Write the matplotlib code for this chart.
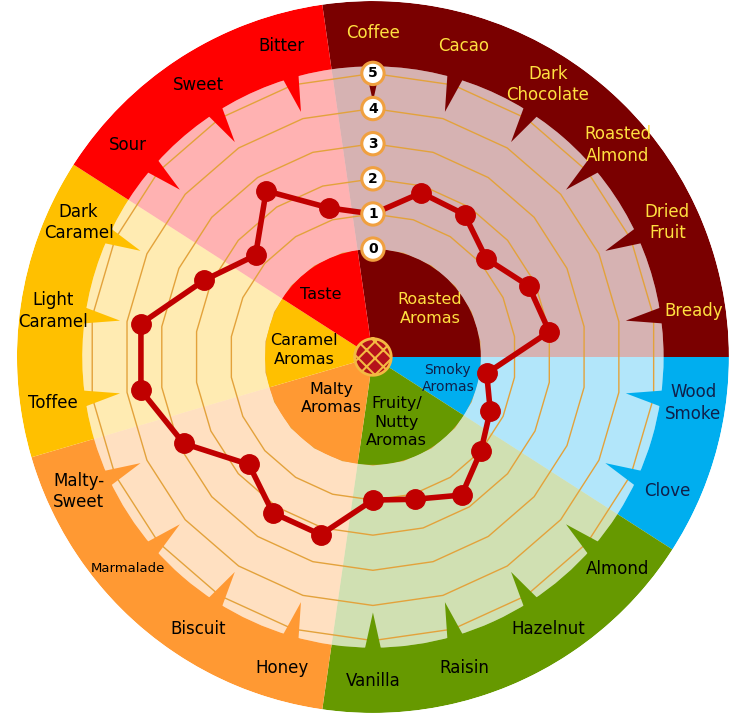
import numpy as np
import matplotlib.pyplot as plt

# flavour wheel data (clockwise from the top)
flavours = ["Coffee", "Cacao", "Dark\nChocolate", "Roasted\nAlmond", "Dried\nFruit", "Bready",
            "Wood\nSmoke", "Clove",
            "Almond", "Hazelnut", "Raisin", "Vanilla",
            "Honey", "Biscuit", "Marmalade", "Malty-\nSweet",
            "Toffee", "Light\nCaramel", "Dark\nCaramel",
            "Sour", "Sweet", "Bitter"]
scores = [1.0, 1.8, 1.75, 1.2, 1.8, 2.0,
          0.2, 0.6,
          1.0, 1.6, 1.15, 1.0,
          2.2, 2.2, 1.6, 2.85,
          3.6, 3.6, 2.2,
          1.35, 2.55, 1.35]

groups = ["Roasted\nAromas", "Smoky\nAromas", "Fruity/\nNutty\nAromas", "Malty\nAromas", "Caramel\nAromas", "Taste"]
group_sizes = [6, 2, 4, 4, 3, 3]
group_colors = ["#7A0000", "#00AEEF", "#669900", "#FF9933", "#FFC000", "#FF0000"]
group_text = ["#FFE040", "#10204A", "black", "black", "black", "black"]
# where the group names sit in the centre disc (compass deg, radius)
group_label_pos = [(50, -0.95), (106, -0.85), (160, -1.1), (225, -1.4), (276, -1.1), (320, -0.75)]

scale_ticks = [0, 1, 2, 3, 4, 5]

n = len(flavours)
step = 2 * np.pi / n
theta = np.arange(n) * step
r_min, r_max = -3.07, 7.06
r_light, r_band, r_tip = 5.2, 6.14, 4.2

fig = plt.figure(figsize=(7.5, 7.16), dpi=100)
ax = fig.add_axes([0.0226, 0.0042, 0.9493, 0.9944], projection="polar")
ax.set_theta_zero_location("N")
ax.set_theta_direction(-1)
ax.set_ylim(r_min, r_max)
ax.set_xticks([])
ax.set_yticks([])
ax.grid(False)
ax.spines["polar"].set_visible(False)
ax.patch.set_alpha(0)

cat_color = []
cat_text = []
start = 0
for name, size, col, tcol, (ang, rr) in zip(groups, group_sizes, group_colors, group_text, group_label_pos):
    centre = (start + (size - 1) / 2) * step
    width = size * step
    ax.bar(centre, r_light, width=width, bottom=0, color=col, alpha=0.3, lw=0, zorder=1)
    ax.bar(centre, r_max - r_light, width=width, bottom=r_light, color=col, lw=0, zorder=1)
    ax.bar(centre, -r_min, width=width, bottom=r_min, color=col, lw=0, zorder=4)
    fs = 10 if size == 2 else 11.5
    ax.text(np.deg2rad(ang), rr, name, ha="center", va="center", color=tcol, fontsize=fs,
            linespacing=1.3, zorder=5)
    cat_color += [col] * size
    cat_text += [tcol] * size
    start += size

# polygon grid
closed = np.append(theta, theta[0])
for lev in scale_ticks:
    ax.plot(closed, [lev] * (n + 1), color="#E3A23B", lw=1, zorder=2)

# label pointers and names
d = np.deg2rad(1.6)
for t, name, col, tcol in zip(theta, flavours, cat_color, cat_text):
    ax.fill([t - d, t, t + d], [r_light + 0.05, r_tip, r_light + 0.05], color=col, lw=0, zorder=3)
    fs = 9.5 if name == "Marmalade" else 12
    ax.text(t, r_band, name, ha="center", va="center", color=tcol, fontsize=fs,
            linespacing=1.25, zorder=5)

# scores
ax.plot(closed, scores + scores[:1], color="#C00000", lw=4, marker="o", ms=14, zorder=6)

# scale labels
for v in scale_ticks:
    ax.text(0, v, str(v), ha="center", va="center", fontsize=10, fontweight="bold",
            bbox=dict(boxstyle="circle,pad=0.3", fc="white", ec="#F0A040", lw=2.2), zorder=8)

# centre badge
plt.rcParams["hatch.linewidth"] = 1.5
ax.bar(0, 0.52, width=2 * np.pi, bottom=r_min, color="#B5121B", edgecolor="#F4B942",
       hatch="xx", lw=0, zorder=7)
ring = np.linspace(0, 2 * np.pi, 120)
ax.plot(ring, [r_min + 0.52] * 120, color="#F4B942", lw=2, zorder=7)

fig.savefig("out.png", dpi=100)
